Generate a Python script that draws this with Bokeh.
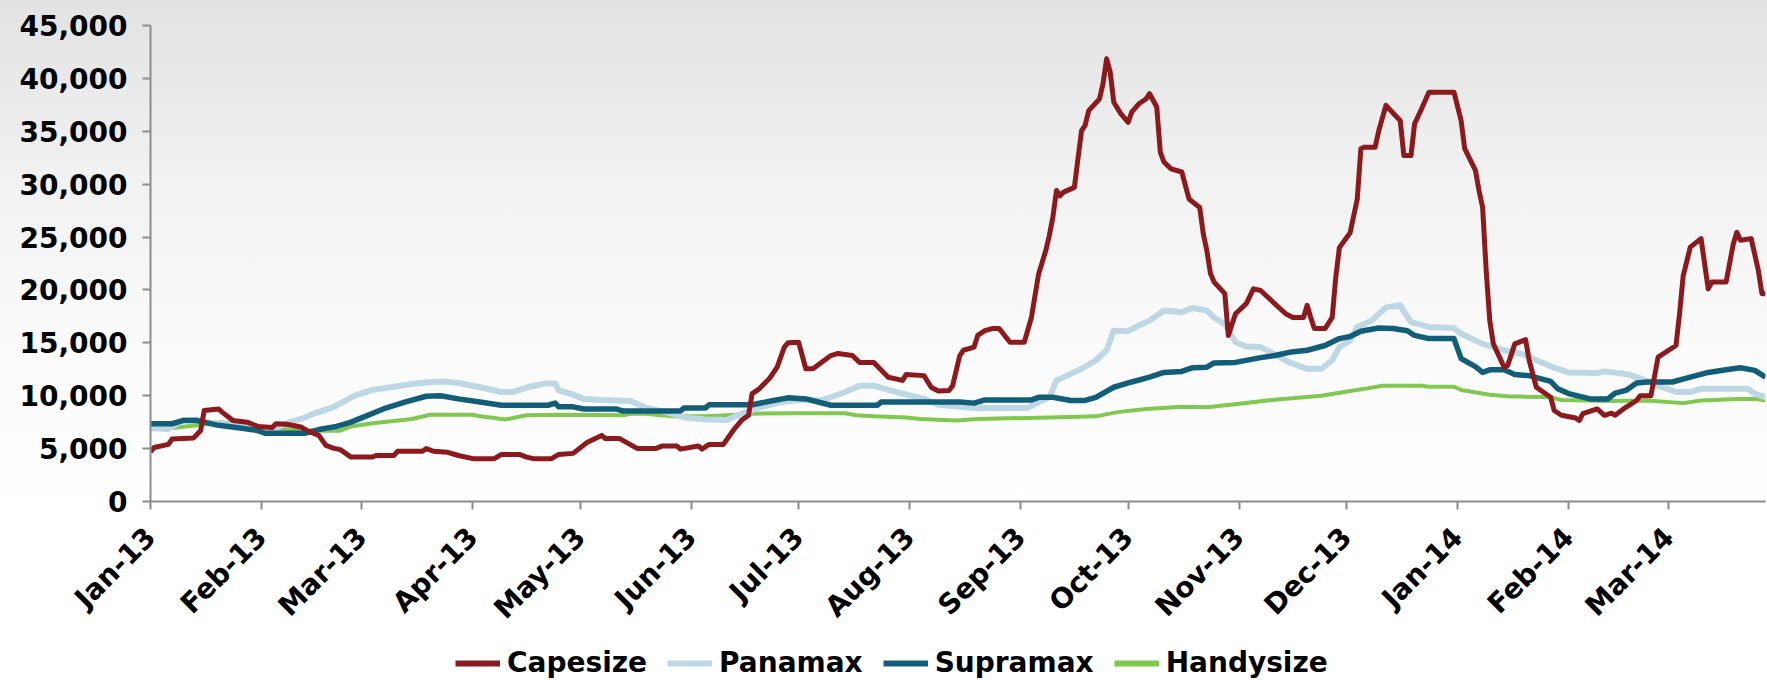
import math
import pandas as pd
from bokeh.plotting import figure
from bokeh.layouts import column
from bokeh.models import Range1d, FixedTicker, NumeralTickFormatter, Legend, LegendItem
from bokeh.embed import file_html
from bokeh.resources import INLINE

# ---------------- data ----------------
tick_dates = ["2013-01-01", "2013-02-01", "2013-03-01", "2013-04-01", "2013-05-01",
              "2013-06-01", "2013-07-01", "2013-08-01", "2013-09-01", "2013-10-01",
              "2013-11-01", "2013-12-01", "2014-01-01", "2014-02-01", "2014-03-01"]
tick_labels = ["Jan-13", "Feb-13", "Mar-13", "Apr-13", "May-13", "Jun-13", "Jul-13",
               "Aug-13", "Sep-13", "Oct-13", "Nov-13", "Dec-13", "Jan-14", "Feb-14", "Mar-14"]
y_ticks = [0, 5000, 10000, 15000, 20000, 25000, 30000, 35000, 40000, 45000]

cape_dates = ["2013-01-01", "2013-01-02", "2013-01-06", "2013-01-07", "2013-01-13", "2013-01-15",
              "2013-01-16", "2013-01-20", "2013-01-21", "2013-01-24", "2013-01-28", "2013-01-31",
              "2013-02-04", "2013-02-05", "2013-02-08", "2013-02-12", "2013-02-14", "2013-02-17",
              "2013-02-19", "2013-02-21", "2013-02-23", "2013-02-26", "2013-03-04", "2013-03-05",
              "2013-03-10", "2013-03-11", "2013-03-18", "2013-03-19", "2013-03-21", "2013-03-25",
              "2013-03-28", "2013-04-01", "2013-04-07", "2013-04-09", "2013-04-14", "2013-04-16",
              "2013-04-18", "2013-04-23", "2013-04-25", "2013-04-29", "2013-05-03", "2013-05-07",
              "2013-05-08", "2013-05-12", "2013-05-17", "2013-05-22", "2013-05-24", "2013-05-28",
              "2013-05-29", "2013-06-03", "2013-06-04", "2013-06-06", "2013-06-10", "2013-06-13",
              "2013-06-15", "2013-06-17", "2013-06-18", "2013-06-20", "2013-06-23", "2013-06-25",
              "2013-06-27", "2013-06-28", "2013-07-01", "2013-07-03", "2013-07-05", "2013-07-10",
              "2013-07-12", "2013-07-16", "2013-07-18", "2013-07-22", "2013-07-26", "2013-07-30",
              "2013-07-31", "2013-08-05", "2013-08-07", "2013-08-09", "2013-08-12", "2013-08-13",
              "2013-08-15", "2013-08-16", "2013-08-19", "2013-08-20", "2013-08-22", "2013-08-24",
              "2013-08-26", "2013-08-29", "2013-09-02", "2013-09-04", "2013-09-06", "2013-09-08",
              "2013-09-09", "2013-09-10", "2013-09-11", "2013-09-12", "2013-09-13", "2013-09-16",
              "2013-09-17", "2013-09-18", "2013-09-19", "2013-09-20", "2013-09-23", "2013-09-24",
              "2013-09-25", "2013-09-26", "2013-09-27", "2013-09-29", "2013-10-01", "2013-10-02",
              "2013-10-04", "2013-10-06", "2013-10-07", "2013-10-09", "2013-10-10", "2013-10-11",
              "2013-10-13", "2013-10-16", "2013-10-18", "2013-10-21", "2013-10-22", "2013-10-23",
              "2013-10-24", "2013-10-25", "2013-10-28", "2013-10-29", "2013-10-31", "2013-11-03",
              "2013-11-05", "2013-11-07", "2013-11-10", "2013-11-14", "2013-11-16", "2013-11-19",
              "2013-11-20", "2013-11-21", "2013-11-22", "2013-11-25", "2013-11-27", "2013-11-28",
              "2013-11-29", "2013-12-02", "2013-12-04", "2013-12-05", "2013-12-06", "2013-12-09",
              "2013-12-10", "2013-12-12", "2013-12-16", "2013-12-17", "2013-12-19", "2013-12-20",
              "2013-12-22", "2013-12-24", "2013-12-31", "2014-01-02", "2014-01-03", "2014-01-06",
              "2014-01-07", "2014-01-08", "2014-01-09", "2014-01-10", "2014-01-11", "2014-01-14",
              "2014-01-15", "2014-01-17", "2014-01-20", "2014-01-21", "2014-01-23", "2014-01-27",
              "2014-01-28", "2014-01-30", "2014-02-03", "2014-02-04", "2014-02-05", "2014-02-09",
              "2014-02-11", "2014-02-13", "2014-02-14", "2014-02-17", "2014-02-20", "2014-02-21",
              "2014-02-24", "2014-02-26", "2014-03-03", "2014-03-04", "2014-03-05", "2014-03-07",
              "2014-03-10", "2014-03-12", "2014-03-13", "2014-03-17", "2014-03-19", "2014-03-20",
              "2014-03-21", "2014-03-24", "2014-03-26", "2014-03-27", "2014-03-28"]
cape_values = [4700, 5100, 5400, 5900, 6000, 6700,
               8600, 8750, 8450, 7650, 7500, 7100,
               7000, 7350, 7300, 7050, 6650, 6250,
               5300, 5050, 4900, 4200, 4200, 4350,
               4350, 4750, 4750, 5000, 4750, 4650,
               4350, 4050, 4050, 4450, 4450, 4200,
               4050, 4050, 4450, 4550, 5600, 6250,
               5950, 5950, 5000, 5000, 5250, 5250,
               4950, 5250, 4950, 5400, 5400, 6850,
               7650, 8150, 10200, 10650, 11700, 12700,
               14600, 15000, 15050, 12550, 12550, 13800,
               14000, 13800, 13150, 13150, 11750, 11450,
               12000, 11900, 10800, 10450, 10500, 10950,
               13800, 14300, 14600, 15700, 16150, 16350,
               16350, 15050, 15050, 17400, 21500, 23700,
               25150, 26900, 29400, 28900, 29250, 29700,
               32400, 35050, 35550, 36950, 38050, 39500,
               41850, 40600, 37750, 36650, 35850, 36800,
               37600, 38050, 38550, 37300, 33000, 32100,
               31450, 31150, 28600, 27800, 25300, 23700,
               21550, 20750, 19650, 15700, 17750, 18700,
               20100, 19950, 19000, 17750, 17400, 17400,
               18550, 17400, 16350, 16350, 17400, 21200,
               24000, 25400, 28600, 33350, 33500, 33500,
               35050, 37450, 36000, 32700, 32700, 35700,
               37150, 38700, 38700, 36000, 33350, 31300,
               29400, 27800, 21850, 17100, 14900, 12700,
               12850, 14900, 15300, 13350, 10800, 9850,
               8600, 8150, 7900, 7650, 8300, 8750,
               8150, 8350, 8150, 8900, 9550, 10000,
               10000, 13650, 14750, 17750, 21300, 24050,
               24850, 20100, 20750, 20750, 24350, 25450,
               24700, 24850, 21850, 19650, 19650]

pana_dates = ["2013-01-01", "2013-01-06", "2013-01-10", "2013-01-14", "2013-01-17", "2013-01-24",
              "2013-01-30", "2013-02-04", "2013-02-08", "2013-02-12", "2013-02-16", "2013-02-21",
              "2013-02-27", "2013-03-04", "2013-03-10", "2013-03-15", "2013-03-20", "2013-03-24",
              "2013-03-28", "2013-04-03", "2013-04-09", "2013-04-12", "2013-04-17", "2013-04-21",
              "2013-04-24", "2013-04-25", "2013-04-29", "2013-05-02", "2013-05-07", "2013-05-15",
              "2013-05-19", "2013-05-25", "2013-05-30", "2013-06-05", "2013-06-11", "2013-06-14",
              "2013-06-20", "2013-06-26", "2013-07-02", "2013-07-07", "2013-07-10", "2013-07-14",
              "2013-07-18", "2013-07-22", "2013-07-26", "2013-07-30", "2013-08-05", "2013-08-09",
              "2013-08-15", "2013-08-19", "2013-09-03", "2013-09-06", "2013-09-09", "2013-09-11",
              "2013-09-14", "2013-09-18", "2013-09-22", "2013-09-25", "2013-09-27", "2013-10-01",
              "2013-10-04", "2013-10-07", "2013-10-11", "2013-10-16", "2013-10-19", "2013-10-23",
              "2013-10-25", "2013-10-28", "2013-10-31", "2013-11-03", "2013-11-07", "2013-11-11",
              "2013-11-15", "2013-11-20", "2013-11-24", "2013-11-27", "2013-11-29", "2013-12-02",
              "2013-12-04", "2013-12-08", "2013-12-12", "2013-12-16", "2013-12-19", "2013-12-24",
              "2013-12-31", "2014-01-02", "2014-01-08", "2014-01-14", "2014-01-19", "2014-01-23",
              "2014-01-28", "2014-02-01", "2014-02-09", "2014-02-11", "2014-02-18", "2014-02-22",
              "2014-02-26", "2014-03-03", "2014-03-07", "2014-03-10", "2014-03-23", "2014-03-25",
              "2014-03-28"]
pana_values = [6950, 6850, 7700, 7700, 7500, 7200,
               6950, 6800, 7400, 7800, 8350, 8900,
               10000, 10550, 10850, 11100, 11300, 11350,
               11200, 10800, 10350, 10350, 10850, 11150,
               11150, 10500, 10100, 9700, 9600, 9500,
               8900, 8450, 7950, 7750, 7700, 8150,
               8900, 9400, 9650, 9550, 9850, 10350,
               10950, 10950, 10550, 10200, 9700, 9150,
               8950, 8850, 8850, 9400, 9850, 11450,
               11900, 12550, 13350, 14300, 16150, 16100,
               16650, 17100, 18050, 17900, 18300, 18050,
               17400, 16750, 15050, 14650, 14600, 13900,
               13150, 12550, 12550, 13350, 14600, 15200,
               16500, 17100, 18350, 18550, 16950, 16500,
               16400, 15850, 14900, 14300, 13950, 13350,
               12650, 12200, 12150, 12300, 12000, 11500,
               10950, 10350, 10350, 10650, 10650, 10200,
               9850]

supra_dates = ["2013-01-01", "2013-01-07", "2013-01-10", "2013-01-14", "2013-01-20", "2013-01-26",
               "2013-01-31", "2013-02-02", "2013-02-13", "2013-02-17", "2013-02-22", "2013-02-26",
               "2013-03-02", "2013-03-07", "2013-03-13", "2013-03-19", "2013-03-23", "2013-03-28",
               "2013-04-03", "2013-04-09", "2013-04-22", "2013-04-24", "2013-04-25", "2013-04-29",
               "2013-05-02", "2013-05-11", "2013-05-13", "2013-05-29", "2013-05-30", "2013-06-05",
               "2013-06-06", "2013-06-18", "2013-06-24", "2013-06-28", "2013-07-03", "2013-07-10",
               "2013-07-23", "2013-07-24", "2013-08-15", "2013-08-19", "2013-08-22", "2013-09-04",
               "2013-09-06", "2013-09-10", "2013-09-15", "2013-09-19", "2013-09-22", "2013-09-27",
               "2013-10-02", "2013-10-07", "2013-10-11", "2013-10-16", "2013-10-19", "2013-10-23",
               "2013-10-25", "2013-10-31", "2013-11-07", "2013-11-11", "2013-11-15", "2013-11-20",
               "2013-11-25", "2013-11-29", "2013-12-02", "2013-12-05", "2013-12-10", "2013-12-14",
               "2013-12-18", "2013-12-20", "2013-12-24", "2013-12-31", "2014-01-02", "2014-01-06",
               "2014-01-08", "2014-01-10", "2014-01-14", "2014-01-17", "2014-01-21", "2014-01-27",
               "2014-01-29", "2014-02-01", "2014-02-07", "2014-02-12", "2014-02-14", "2014-02-17",
               "2014-02-20", "2014-02-23", "2014-03-02", "2014-03-07", "2014-03-12", "2014-03-17",
               "2014-03-21", "2014-03-25", "2014-03-28"]
supra_values = [7350, 7350, 7650, 7650, 7200, 6950,
                6700, 6450, 6450, 6800, 7100, 7500,
                8050, 8750, 9400, 9950, 10000, 9700,
                9400, 9100, 9100, 9300, 8950, 8950,
                8750, 8750, 8550, 8550, 8850, 8850,
                9150, 9150, 9550, 9800, 9700, 9100,
                9100, 9400, 9400, 9300, 9600, 9600,
                9850, 9850, 9550, 9550, 9850, 10800,
                11300, 11750, 12200, 12300, 12650, 12700,
                13100, 13150, 13600, 13800, 14100, 14300,
                14750, 15400, 15600, 16100, 16400, 16350,
                16150, 15700, 15400, 15400, 13500, 12750,
                12200, 12450, 12450, 12000, 11900, 11350,
                10650, 10200, 9700, 9700, 10250, 10500,
                11200, 11300, 11300, 11750, 12200, 12450,
                12650, 12400, 11750]

handy_dates = ["2013-01-01", "2013-01-07", "2013-01-14", "2013-01-21", "2013-01-28", "2013-02-04",
               "2013-02-13", "2013-02-23", "2013-02-26", "2013-03-04", "2013-03-10", "2013-03-15",
               "2013-03-20", "2013-04-01", "2013-04-03", "2013-04-06", "2013-04-10", "2013-04-16",
               "2013-04-25", "2013-05-13", "2013-05-15", "2013-05-19", "2013-05-27", "2013-06-05",
               "2013-06-11", "2013-06-18", "2013-06-28", "2013-07-14", "2013-07-17", "2013-07-22",
               "2013-07-31", "2013-08-04", "2013-08-14", "2013-08-20", "2013-09-09", "2013-09-22",
               "2013-09-28", "2013-10-06", "2013-10-16", "2013-10-23", "2013-11-01", "2013-11-10",
               "2013-11-24", "2013-12-02", "2013-12-06", "2013-12-11", "2013-12-22", "2013-12-24",
               "2013-12-31", "2014-01-02", "2014-01-10", "2014-01-15", "2014-01-27", "2014-01-30",
               "2014-02-12", "2014-02-23", "2014-03-05", "2014-03-10", "2014-03-20", "2014-03-25",
               "2014-03-28"]
handy_values = [6850, 6950, 7200, 7500, 7200, 6950,
                6700, 6700, 7100, 7400, 7600, 7800,
                8200, 8200, 8050, 7950, 7750, 8150,
                8200, 8150, 8300, 8300, 8050, 8050,
                8150, 8300, 8350, 8350, 8150, 8050,
                7950, 7800, 7650, 7800, 7950, 8050,
                8450, 8750, 8950, 8900, 9250, 9600,
                10000, 10450, 10650, 10950, 10950, 10850,
                10850, 10550, 10100, 9950, 9850, 9600,
                9500, 9550, 9300, 9550, 9700, 9700,
                9550]

series_names = ["Capesize", "Panamax", "Supramax", "Handysize"]
series_colors = ["#8c1a1d", "#bdd8e4", "#125e79", "#80c84f"]
series_widths = [5, 6, 5.5, 4]

# ---------------- main chart ----------------
FONT = "DejaVu Sans"

p = figure(width=1767, height=640, x_axis_type="datetime",
           x_range=Range1d(pd.Timestamp("2013-01-01"), pd.Timestamp("2014-03-28")),
           y_range=Range1d(0, 45000),
           output_backend="svg", toolbar_location=None,
           min_border_left=150, min_border_right=2, min_border_top=25, min_border_bottom=139)

p.background_fill_alpha = 0
p.border_fill_alpha = 0
p.styles = {"background": "linear-gradient(180deg, #e2e2e2 0%, #f1f1f1 27%, #fafafa 53%, #ffffff 80%)"}
p.outline_line_color = None
p.xgrid.visible = False
p.ygrid.visible = False

p.line(pd.to_datetime(handy_dates), handy_values, color=series_colors[3], line_width=series_widths[3], line_join="round")
p.line(pd.to_datetime(pana_dates), pana_values, color=series_colors[1], line_width=series_widths[1], line_join="round")
p.line(pd.to_datetime(supra_dates), supra_values, color=series_colors[2], line_width=series_widths[2], line_join="round")
p.line(pd.to_datetime(cape_dates), cape_values, color=series_colors[0], line_width=series_widths[0], line_join="round")

for ax in (p.xaxis[0], p.yaxis[0]):
    ax.axis_line_color = "#8c8c8c"
    ax.axis_line_width = 2
    ax.major_tick_line_color = "#8c8c8c"
    ax.major_tick_line_width = 2
    ax.major_tick_out = 8
    ax.major_tick_in = 0
    ax.minor_tick_line_color = None
    ax.major_label_text_font = FONT
    ax.major_label_text_font_style = "bold"
    ax.major_label_text_font_size = "28px"
    ax.major_label_text_color = "#000000"

p.yaxis.ticker = FixedTicker(ticks=y_ticks)
p.yaxis.formatter = NumeralTickFormatter(format="0,0")
p.yaxis.major_label_standoff = 15

tick_ms = [float(pd.Timestamp(d).value // 10**6) for d in tick_dates]
p.xaxis.ticker = FixedTicker(ticks=tick_ms)
p.xaxis.major_label_overrides = {ms: lbl for ms, lbl in zip(tick_ms, tick_labels)}
p.xaxis.major_label_orientation = math.pi / 4
p.xaxis.major_label_standoff = 23

# ---------------- legend strip (keys only, no data marks) ----------------
pl = figure(width=1767, height=40, x_range=Range1d(0, 1), y_range=Range1d(0, 1),
            x_axis_location=None, y_axis_location=None,
            output_backend="svg", toolbar_location=None, min_border=0)
pl.outline_line_color = None
pl.xgrid.visible = False
pl.ygrid.visible = False
pl.background_fill_alpha = 0
pl.border_fill_alpha = 0

items = []
for name, col, w in zip(series_names, series_colors, series_widths):
    r = pl.line(x=[float("nan")], y=[float("nan")], color=col, line_width=6)
    items.append(LegendItem(label=name, renderers=[r]))

legend = Legend(items=items, orientation="horizontal", location=(305, 1),
                border_line_alpha=0, background_fill_alpha=0,
                label_text_font=FONT, label_text_font_style="bold",
                label_text_font_size="28px", label_text_color="#000000",
                glyph_width=45, glyph_height=30, label_height=30,
                label_standoff=7, spacing=20, padding=0, margin=0)
pl.add_layout(legend, "center")

layout = column(p, pl, spacing=0)
open("out.html", "w").write(file_html(layout, INLINE))
